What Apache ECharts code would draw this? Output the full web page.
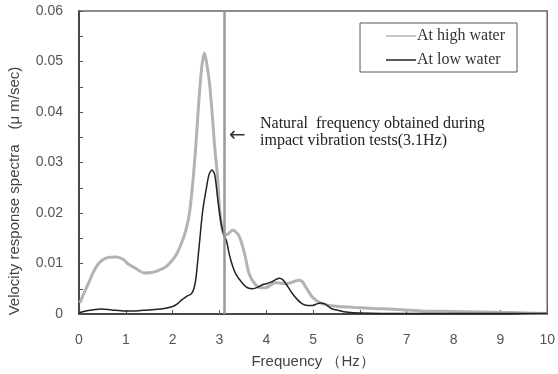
<!DOCTYPE html>
<html>
<head>
<meta charset="utf-8">
<script src="https://cdn.jsdelivr.net/npm/echarts@6/dist/echarts.min.js"></script>
<style>
  html, body { margin: 0; padding: 0; background: #fff; }
  #chart { width: 558px; height: 374px; }
</style>
</head>
<body>
<div id="chart"></div>
<script>
// 高水位（灰线）
const freqHigh = [0.02, 0.1, 0.2, 0.3, 0.41, 0.5, 0.62, 0.8, 0.95, 1.05, 1.2, 1.4, 1.55, 1.69, 1.85, 1.97, 2.08, 2.18, 2.28, 2.36, 2.44, 2.5, 2.57, 2.63, 2.68, 2.73, 2.79, 2.85, 2.89, 2.96, 3.0, 3.06, 3.12, 3.2, 3.28, 3.36, 3.43, 3.53, 3.64, 3.78, 3.9, 3.99, 4.1, 4.2, 4.32, 4.42, 4.55, 4.7, 4.77, 4.84, 4.92, 4.99, 5.1, 5.2, 5.35, 5.55, 5.9, 6.3, 6.8, 7.3, 8.0, 8.6, 9.2, 10.0];
const valHigh  = [0.0022, 0.004, 0.006, 0.0082, 0.0099, 0.0107, 0.0112, 0.0113, 0.0108, 0.0099, 0.0091, 0.0081, 0.0082, 0.0086, 0.0093, 0.0104, 0.0118, 0.0138, 0.0165, 0.02, 0.027, 0.034, 0.0435, 0.0495, 0.0517, 0.0495, 0.0455, 0.039, 0.034, 0.027, 0.021, 0.0168, 0.0155, 0.016, 0.0166, 0.0162, 0.0152, 0.0122, 0.0078, 0.0057, 0.0052, 0.0052, 0.0058, 0.0062, 0.0061, 0.006, 0.0063, 0.0067, 0.0064, 0.0054, 0.0042, 0.0033, 0.0025, 0.002, 0.0017, 0.0015, 0.0013, 0.0011, 0.0009, 0.0006, 0.0005, 0.0004, 0.0003, 0.0001];

// 低水位（黑线）
const freqLow = [0.0, 0.1, 0.2, 0.35, 0.48, 0.7, 0.98, 1.2, 1.47, 1.75, 2.0, 2.1, 2.18, 2.3, 2.4, 2.46, 2.5, 2.57, 2.64, 2.72, 2.78, 2.84, 2.9, 2.96, 3.04, 3.1, 3.15, 3.21, 3.28, 3.35, 3.5, 3.6, 3.71, 3.82, 3.92, 4.0, 4.1, 4.2, 4.28, 4.35, 4.42, 4.56, 4.67, 4.77, 4.88, 4.99, 5.08, 5.16, 5.25, 5.41, 5.55, 5.7, 6.0, 7.0, 8.0, 9.0, 10.0];
const valLow  = [0.0002, 0.0005, 0.0007, 0.0009, 0.001, 0.0008, 0.0006, 0.0006, 0.0008, 0.001, 0.0015, 0.002, 0.0027, 0.0035, 0.004, 0.0052, 0.0073, 0.0138, 0.0203, 0.0249, 0.0277, 0.0285, 0.0275, 0.023, 0.0177, 0.0155, 0.0145, 0.0118, 0.0095, 0.0079, 0.006, 0.0052, 0.005, 0.0053, 0.0058, 0.006, 0.0063, 0.0068, 0.0071, 0.0068, 0.006, 0.004, 0.0028, 0.002, 0.0017, 0.0017, 0.002, 0.0022, 0.002, 0.001, 0.0007, 0.0004, 0.0002, 0.0001, 0.0001, 0.0001, 0.0001];

const xTicks = [0, 1, 2, 3, 4, 5, 6, 7, 8, 9, 10];
const yTicks = [0, 0.01, 0.02, 0.03, 0.04, 0.05, 0.06];
const naturalFreq = 3.1;

const seriesNames = ['At high water', 'At low water'];

const chart = echarts.init(document.getElementById('chart'));

const zip = (xs, ys) => xs.map((x, i) => [x, ys[i]]);

const option = {
  animation: false,
  grid: {
    left: 79,
    right: 9,
    top: 11,
    bottom: 57,
    show: true,
    borderColor: '#666',
    borderWidth: 1.5,
    backgroundColor: 'transparent'
  },
  legend: {
    orient: 'vertical',
    right: 41,
    top: 23,
    padding: [4, 12, 3, 26],
    itemGap: 6,
    itemWidth: 30,
    itemHeight: 1.5,
    icon: 'rect',
    borderColor: '#555',
    borderWidth: 1,
    data: seriesNames,
    textStyle: {
      fontFamily: 'Liberation Serif',
      fontSize: 16,
      lineHeight: 18,
      color: '#333',
      padding: [0, 0, 0, -4]
    }
  },
  xAxis: {
    type: 'value',
    min: xTicks[0],
    max: xTicks[xTicks.length - 1],
    interval: 1,
    name: 'Frequency （Hz）',
    nameLocation: 'middle',
    nameGap: 40,
    nameTextStyle: { fontFamily: 'Liberation Sans', fontSize: 15, color: '#444' },
    axisLine: { lineStyle: { color: '#333', width: 1.5 } },
    axisTick: { inside: true, length: 4, lineStyle: { color: '#555' } },
    axisLabel: { fontFamily: 'Liberation Sans', fontSize: 14, color: '#555', margin: 19 },
    splitLine: { show: false }
  },
  yAxis: {
    type: 'value',
    min: yTicks[0],
    max: yTicks[yTicks.length - 1],
    interval: 0.01,
    axisLine: { lineStyle: { color: '#333', width: 1.5 } },
    axisTick: { inside: true, length: 4, lineStyle: { color: '#555' } },
    minorTick: { show: true, splitNumber: 2, length: 4, lineStyle: { color: '#555' } },
    axisLabel: {
      fontFamily: 'Liberation Sans', fontSize: 14, color: '#555', margin: 16,
      formatter: v => (v === 0 ? '0' : v.toFixed(2))
    },
    splitLine: { show: false }
  },
  series: [
    {
      name: seriesNames[0],
      type: 'line',
      data: zip(freqHigh, valHigh),
      symbol: 'none',
      smooth: 0.3,
      lineStyle: { color: '#b3b3b3', width: 3 },
      itemStyle: { color: '#b3b3b3' },
      z: 2,
      markLine: {
        silent: true,
        symbol: 'none',
        label: { show: false },
        lineStyle: { color: '#999', width: 2.5, type: 'solid' },
        data: [{ xAxis: naturalFreq }]
      }
    },
    {
      name: seriesNames[1],
      type: 'line',
      data: zip(freqLow, valLow),
      symbol: 'none',
      smooth: 0.3,
      lineStyle: { color: '#222', width: 1.5 },
      itemStyle: { color: '#222' },
      z: 3
    }
  ],
  graphic: [
    {
      // y 轴标题（旋转）
      type: 'text',
      x: 15,
      y: 191,
      rotation: Math.PI / 2,
      style: {
        text: 'Velocity response spectra　(μ m/sec)',
        font: '15px "Liberation Sans"',
        fill: '#444',
        align: 'center',
        verticalAlign: 'middle'
      }
    },
    {
      type: 'text',
      left: 229,
      top: 126,
      style: { text: '←', font: '20px "DejaVu Sans"', fill: '#333' }
    },
    {
      type: 'text',
      left: 260,
      top: 115,
      style: {
        text: 'Natural  frequency obtained during\nimpact vibration tests(3.1Hz)',
        font: '16px "Liberation Serif"',
        lineHeight: 17,
        fill: '#222'
      }
    }
  ]
};

chart.setOption(option);
</script>
</body>
</html>
